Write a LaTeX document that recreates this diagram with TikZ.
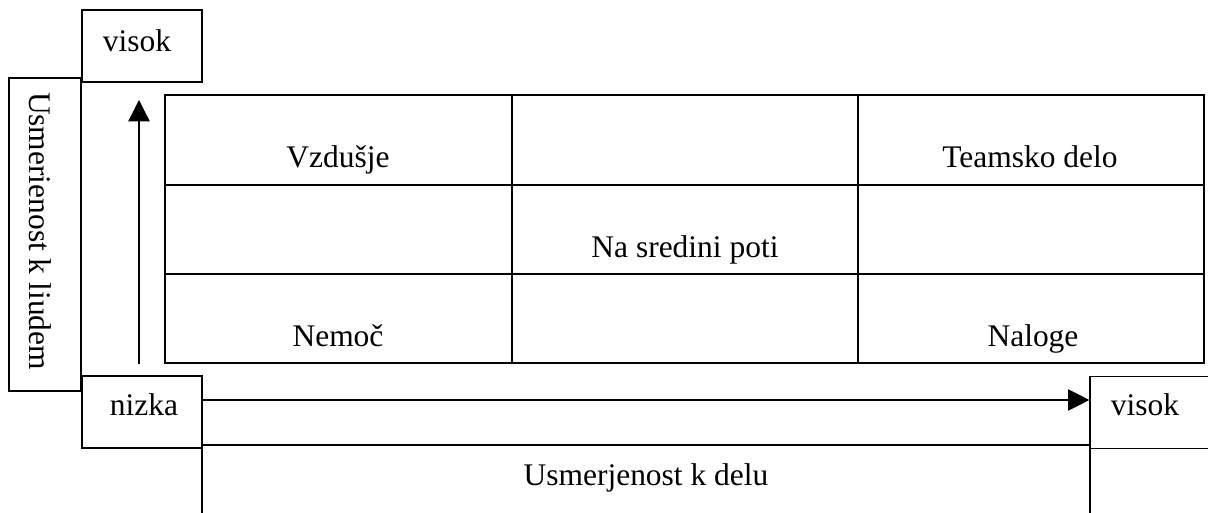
\documentclass[tikz,border=0pt]{standalone}
\usepackage{fontspec}
\setmainfont{Liberation Serif}
\usetikzlibrary{arrows.meta}
\begin{document}
\begin{tikzpicture}[x=0.75pt,y=-0.75pt,
  box/.style={draw, line width=0.9pt, rectangle, inner sep=0pt},
  lbl/.style={font=\fontsize{23.6}{28}\selectfont, inner sep=0pt, anchor=base},
  gridline/.style={line width=2.1pt},
  axis/.style={line width=1pt, -{Triangle[length=16pt,width=16pt]}}]
\useasboundingbox (0,0) rectangle (1208,513);
\clip (0,0) rectangle (1208,513);

% axis label boxes
\node[box, minimum width=90pt, minimum height=54pt] (visokT) at (142,46) {};
\node[box, minimum width=54pt, minimum height=234.75pt] (ljudje) at (45,234.5) {};
\node[box, minimum width=90pt, minimum height=54pt] (nizka) at (142,412) {};
\node[box, minimum width=90pt, minimum height=54pt] (visokR) at (1150,412.5) {};
\node[box, minimum width=666pt, minimum height=86.25pt] (delo) at (646,502.5) {};

% the 3x3 grid
\node[draw, gridline, rectangle, inner sep=0pt,
      minimum width=779.25pt, minimum height=201pt] (grid) at (684.5,229) {};
\draw[gridline] (512,95) -- (512,363);
\draw[gridline] (858,95) -- (858,363);
\draw[gridline] (165,185) -- (1204,185);
\draw[gridline] (165,274) -- (1204,274);

% axes
\coordinate (upstart) at (139,364);
\coordinate (uptip) at (139,100);
\draw[axis] (upstart) -- (uptip);
\coordinate (rstart) at (202,400);
\draw[axis] (rstart) -- (visokR.west |- rstart);

% axis texts
\node[lbl] (tvisokT) at (137,52) {visok};
\node[lbl, rotate=-90] (tljudje) at (30,231) {Usmerienost k liudem};
\node[lbl] (tnizka) at (144,416) {nizka};
\node[lbl] (tvisokR) at (1145,416) {visok};
\node[lbl] (tdelo) at (646,485) {Usmerjenost k delu};

% cell texts
\node[lbl] (c1) at (338,168) {Vzdušje};
\node[lbl] (c2) at (1030,168) {Teamsko delo};
\node[lbl] (c3) at (685,258) {Na sredini poti};
\node[lbl] (c4) at (338,347) {Nemoč};
\node[lbl] (c5) at (1033,347) {Naloge};
\end{tikzpicture}
\end{document}
